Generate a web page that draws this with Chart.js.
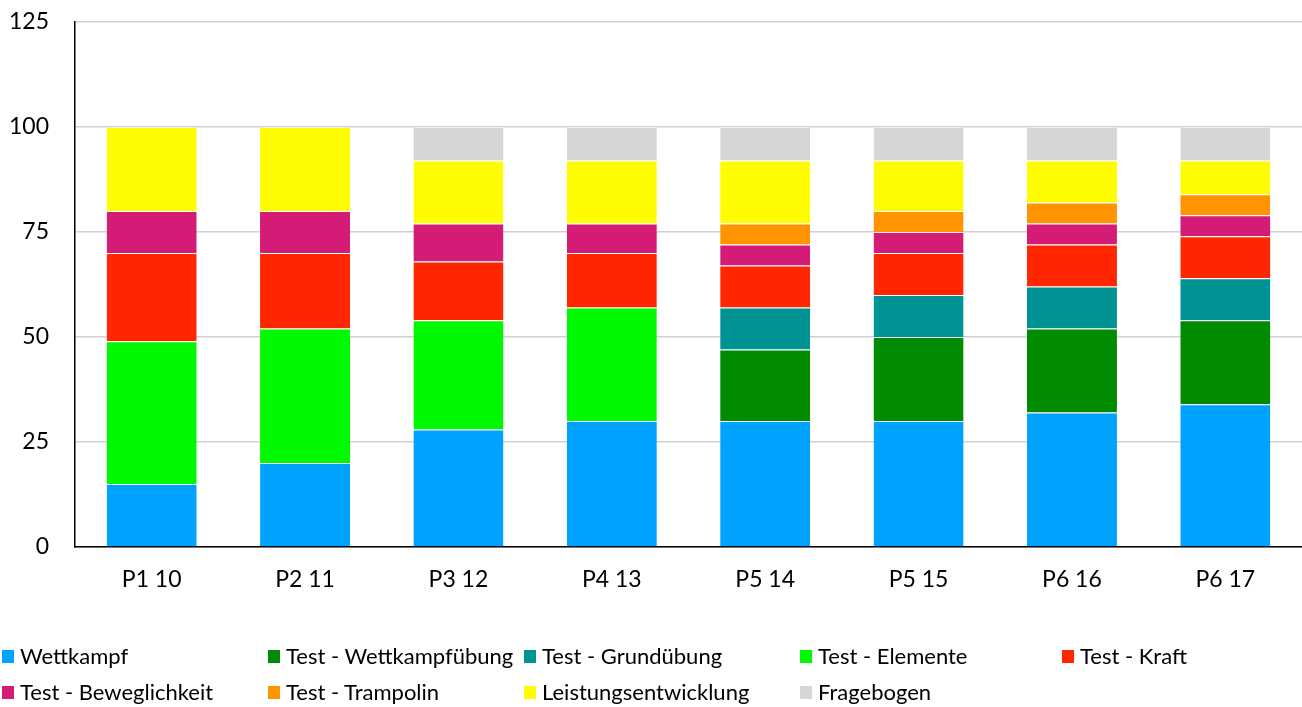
<!DOCTYPE html>
<html><head><meta charset="utf-8">
<script src="https://cdn.jsdelivr.net/npm/chart.js@4"></script>
<style>
html,body{margin:0;padding:0;background:#fff;}
#wrap{position:relative;width:1302px;height:707px;}
canvas{position:absolute;left:0;top:0;}
.li{position:absolute;font-family:Lato,"Noto Sans",sans-serif;font-size:22px;color:#000;white-space:nowrap;line-height:24px;height:24px;}
.li span{position:absolute;left:0;top:6px;width:12px;height:13px;}
.li b{font-weight:normal;position:absolute;left:18px;top:0;}
</style></head>
<body><div id="wrap"><canvas id="c" width="1302" height="707"></canvas><div id="legend"></div></div>
<script>
const categories = ["P1 10","P2 11","P3 12","P4 13","P5 14","P5 15","P6 16","P6 17"];
const seriesNames = ["Wettkampf","Test - Wettkampfübung","Test - Grundübung","Test - Elemente","Test - Kraft","Test - Beweglichkeit","Test - Trampolin","Leistungsentwicklung","Fragebogen"];
const wettkampf       = [15,20,28,30,30,30,32,34];
const wettkampfuebung = [0,0,0,0,17,20,20,20];
const grunduebung     = [0,0,0,0,10,10,10,10];
const elemente        = [34,32,26,27,0,0,0,0];
const kraft           = [21,18,14,13,10,10,10,10];
const beweglichkeit   = [10,10,9,7,5,5,5,5];
const trampolin       = [0,0,0,0,5,5,5,5];
const leistung        = [20,20,15,15,15,12,10,8];
const fragebogen      = [0,0,8,8,8,8,8,8];
const yTicks = [0,25,50,75,100,125];

const seriesData = [wettkampf,wettkampfuebung,grunduebung,elemente,kraft,beweglichkeit,trampolin,leistung,fragebogen];
const colors = ["#00A2FF","#008B00","#009393","#00F900","#FF2600","#D41C76","#FF9300","#FFFB00","#D6D6D6"];

new Chart(document.getElementById('c'), {
  type:'bar',
  data:{labels:categories, datasets:seriesNames.map((n,i)=>({label:n,data:seriesData[i],backgroundColor:colors[i],borderColor:'rgba(255,255,255,0.35)',borderWidth:{top:1,bottom:0,left:0,right:0},barPercentage:0.587,categoryPercentage:1}))},
  options:{
    responsive:false,animation:false,
    layout:{padding:{top:22,right:0,left:0,bottom:0}},
    plugins:{legend:{display:false},tooltip:{enabled:false}},
    scales:{
      x:{stacked:true,
        grid:{display:false,drawTicks:false},
        border:{display:true,color:'#000',width:1.5},
        ticks:{font:{family:'Lato',size:23},color:'#000',padding:19},
        afterFit:a=>{a.height=160;a.paddingLeft=0;a.paddingRight=0;}},
      y:{stacked:true,min:0,max:125,
        afterBuildTicks:a=>{a.ticks=yTicks.map(v=>({value:v}));},
        grid:{color:'#D0D0D0',lineWidth:1.5,drawTicks:false},
        border:{display:true,color:'#000',width:1.5},
        ticks:{font:{family:'Lato',size:23},color:'#000',padding:26},
        afterFit:a=>{a.width=75;a.paddingTop=0;a.paddingBottom=0;}}
    }
  }
});

const pos=[[2,644],[268,644],[524,644],[800,644],[1062,644],[2,680],[268,680],[524,680],[800,680]];
const lg=document.getElementById('legend');
seriesNames.forEach((n,i)=>{
  const d=document.createElement('div');d.className='li';
  d.style.left=pos[i][0]+'px';d.style.top=pos[i][1]+'px';
  d.innerHTML='<span style="background:'+colors[i]+'"></span><b>'+n+'</b>';
  lg.appendChild(d);
});
</script></body></html>
